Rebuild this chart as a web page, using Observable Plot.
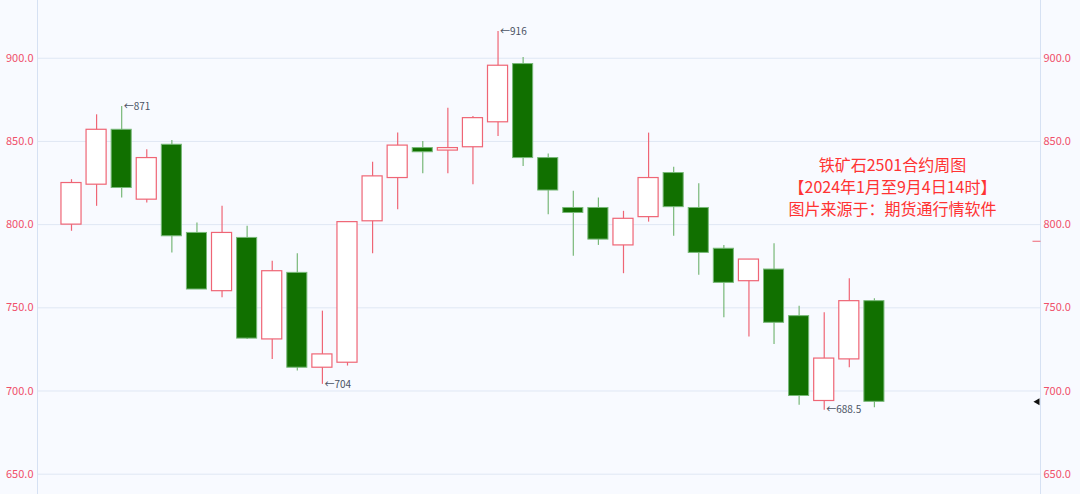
<!DOCTYPE html>
<html><head><meta charset="utf-8">
<script src="https://cdn.jsdelivr.net/npm/d3@7"></script>
<script src="https://cdn.jsdelivr.net/npm/@observablehq/plot@0.6"></script>
<style>
html,body{margin:0;padding:0;background:#f8faff;}
#chart{width:1080px;height:494px;}
</style></head><body><div id="chart"></div>
<script>
// Weekly candles, iron ore 2501 contract (Jan – Sep 4, 2024)
const weekIndex = [0,1,2,3,4,5,6,7,8,9,10,11,12,13,14,15,16,17,18,19,20,21,22,23,24,25,26,27,28,29,30,31,32];
const opens  = [800,824,857,815,848,795,760,792,731,771,714,717,802,828,846,844.5,846.5,861.5,896.5,840,810,810,787.5,804.5,831,810,785.5,766,773,745,694,719,754];
const closes = [825,857,822,840,793,761,795,731.5,772,714,722,801.5,829,847.5,843.5,846,864,895.5,840,820.5,807,791,803.5,828,810.5,783,765,779,741,697,719.5,754,693.5];
const highs  = [827,866,871,845,850.5,801,811,799,778,782.5,748,801.5,837.5,855,850,870,865,916,900.5,842.5,820,816,808,855,834.5,824.5,787.5,779,788.5,751,747,767.5,755.5];
const lows   = [796,811,816,813,783,761,756,731,719,712,704,715,782.5,809,830.5,830.5,824,853,835,806,781,787.5,770.5,801.5,793,769.5,744,732.5,728,691.5,688.5,714,690];
const yTicks = [650,700,750,800,850,900];
const highMarks = [2,17];   // weeks whose high is annotated
const lowMarks  = [10,30];  // weeks whose low is annotated
const refMarker = 790;      // red marker on right axis
const titleLines = ["铁矿石2501合约周图","【2024年1月至9月4日14时】","图片来源于：期货通行情软件"];

const data = weekIndex.map(i => ({i, open: opens[i], close: closes[i], high: highs[i], low: lows[i], up: closes[i] >= opens[i]}));
const upData = data.filter(d => d.up), downData = data.filter(d => !d.up);

const upColor = "#ef6575", downFill = "#117000", downLine = "#78b878";
const xDomain = [-1.355, 38.62];
const font = "'Noto Sans CJK SC', 'Noto Sans', sans-serif";
const hline = {draw(ctx, size){const r = Math.sqrt(size / Math.PI); ctx.moveTo(-r, 0); ctx.lineTo(r, 0);}};

const chart = Plot.plot({
  width: 1080, height: 494,
  marginLeft: 37, marginRight: 40, marginTop: 0, marginBottom: 0,
  style: {background: "#f8faff", fontFamily: font},
  x: {type: "linear", domain: xDomain, axis: null},
  y: {domain: [637.8, 934.7], axis: null},
  marks: [
    Plot.gridY(yTicks, {stroke: "#dfe7f4", strokeOpacity: 1}),
    Plot.ruleX(xDomain, {stroke: "#d6e1f3"}),
    Plot.axisY(yTicks, {anchor: "left", tickSize: 0, tickPadding: 4, tickFormat: d => d.toFixed(1), fill: "#f0506a", fontSize: 11}),
    Plot.axisY(yTicks, {anchor: "right", tickSize: 0, tickPadding: 3, tickFormat: d => d.toFixed(1), fill: "#f0506a", fontSize: 11}),
    // wicks
    Plot.ruleX(data, {x: "i", y1: "low", y2: "high", stroke: d => d.up ? upColor : downLine, strokeWidth: 1.2}),
    // bodies
    Plot.rect(upData, {x1: d => d.i - 0.4, x2: d => d.i + 0.4, y1: "open", y2: "close", fill: "white", stroke: upColor, strokeWidth: 1.2}),
    Plot.rect(downData, {x1: d => d.i - 0.4, x2: d => d.i + 0.4, y1: "open", y2: "close", fill: downFill, stroke: downLine, strokeWidth: 1}),
    // annotations
    Plot.text(highMarks.map(i => data[i]), {x: "i", y: "high", text: d => "←" + d.high, textAnchor: "start", dx: 2, fontSize: 10, fill: "#4a5263"}),
    Plot.text(lowMarks.map(i => data[i]), {x: "i", y: "low", text: d => "←" + d.low, textAnchor: "start", dx: 2, fontSize: 10, fill: "#4a5263"}),
    // right-edge markers
    Plot.dot([refMarker], {y: d => d, frameAnchor: "right", dx: -4, symbol: hline, r: 4, stroke: upColor, strokeWidth: 1}),
    Plot.dot([closes[closes.length - 1]], {y: d => d, frameAnchor: "right", dx: -3, symbol: "triangle", r: 2.6, rotate: -90, fill: "#111", stroke: "none"}),
    // title block
    Plot.text([titleLines.join("\n")], {frameAnchor: "right", dx: -148, dy: -62, textAnchor: "middle", lineHeight: 1.375, fontSize: 16, fill: "#ff3333"})
  ]
});
document.getElementById("chart").append(chart);
</script></body></html>
